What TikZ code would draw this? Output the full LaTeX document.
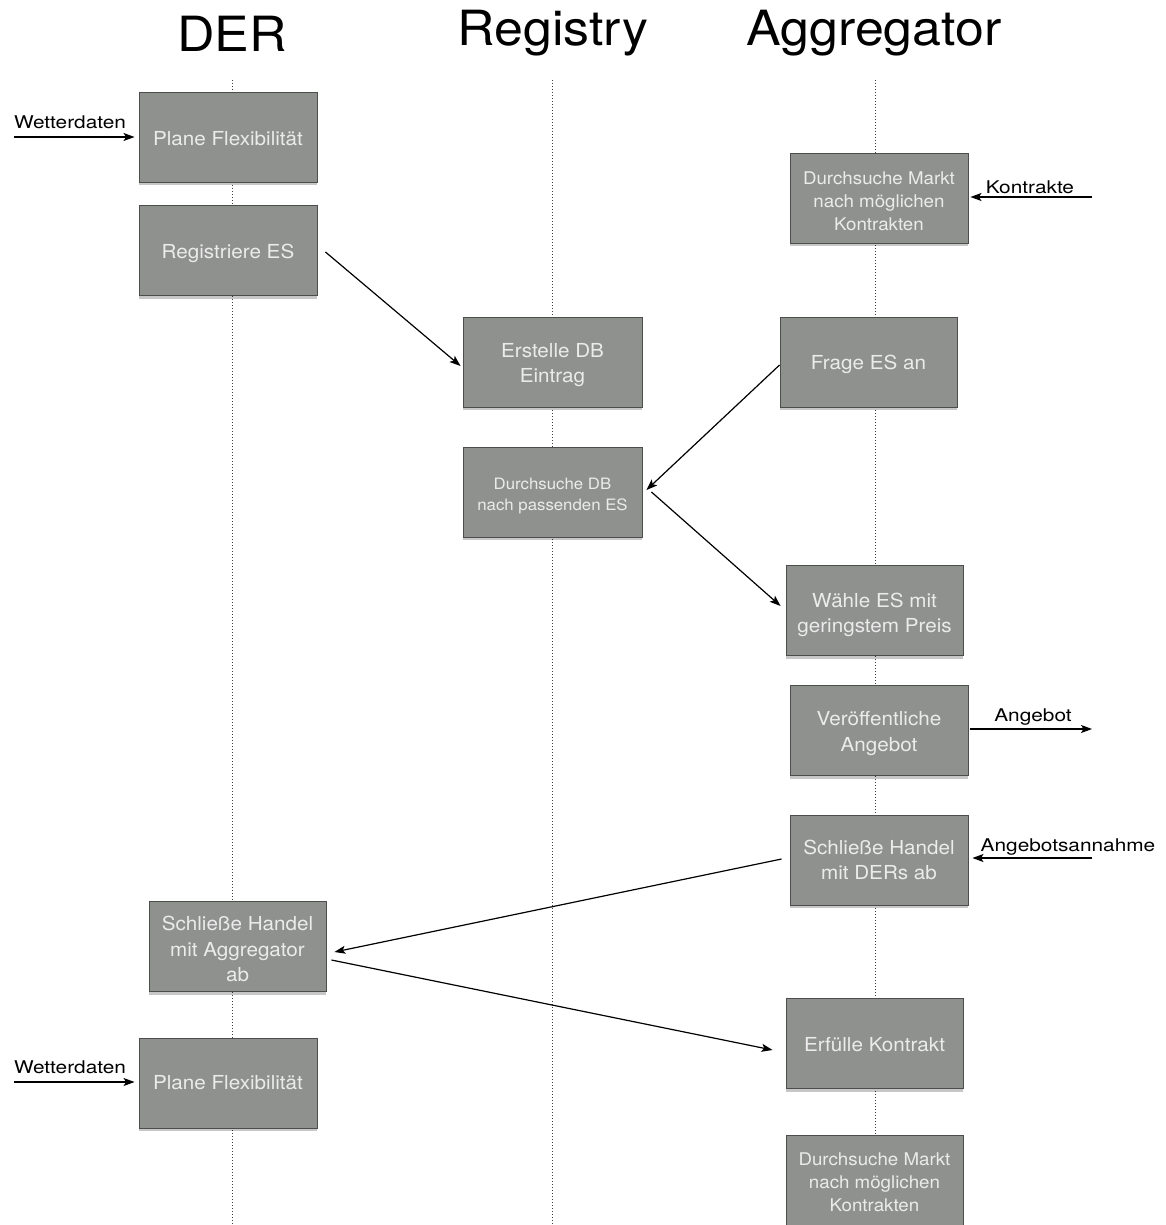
\documentclass[tikz,border=0pt]{standalone}
\usepackage{fontspec}
\setmainfont{TeX Gyre Heros}[FakeStretch=1.07]
\newfontfamily\labelfont{TeX Gyre Heros}[FakeStretch=1.19]
\usetikzlibrary{arrows.meta,shadows,calc}

\definecolor{boxfill}{HTML}{8F918F}
\definecolor{boxline}{HTML}{4C4E4C}
\definecolor{boxtext}{HTML}{EBEBEB}

% centred lines of a step box; the optional argument lowers the ink only
\newcommand{\steptext}[2][2.5pt]{%
  \raisebox{-#1}[\height][\depth]{\begin{tabular}{@{}c@{}}#2\end{tabular}}}

\tikzset{
  stepbox/.style={rectangle, draw=boxline, line width=0.9pt, fill=boxfill,
    text=boxtext, inner sep=0pt,
    minimum width=178pt, minimum height=90pt,
    font=\fontsize{19.3}{25.5}\selectfont,
    drop shadow={shadow xshift=0pt, shadow yshift=-3pt, opacity=0.22, fill=black}},
  smallbox/.style={stepbox, font=\fontsize{15.7}{21}\selectfont},
  midbox/.style={stepbox, font=\fontsize{17.5}{23}\selectfont},
  lifeline/.style={line width=0.8pt, black!75, dash pattern=on 1pt off 2pt},
  msg/.style={line width=1.2pt, -{Stealth[length=11pt,width=8pt,inset=2.5pt]}},
  lane/.style={font=\fontsize{48.5}{55}\selectfont},
  msglabel/.style={font=\labelfont\fontsize{17.5}{20}\selectfont, inner sep=0pt}
}

\begin{document}
\begin{tikzpicture}[x=1pt,y=-1pt]
  \useasboundingbox[fill=white] (0,0) rectangle (1165,1225);

  % lane headings
  \node[lane] (hder) at (232,33.5) {DER};
  \node[lane] (hreg) at (553,33.5) {Registry};
  \node[lane] (hagg) at (874,33.5) {Aggregator};

  % lifelines
  \coordinate (derTop) at (232,80);   \coordinate (derBot) at (232,1225);
  \coordinate (regTop) at (552,80);   \coordinate (regBot) at (552,1225);
  \coordinate (aggTop) at (875,80);   \coordinate (aggBot) at (875,1225);
  \draw[lifeline] (derTop) -- (derBot);
  \draw[lifeline] (regTop) -- (regBot);
  \draw[lifeline] (aggTop) -- (aggBot);

  % DER steps
  \node[stepbox] (plan1) at (228,137.5) {\steptext{Plane Flexibilität}};
  \node[stepbox] (reges) at (228,250.5) {\steptext[3pt]{Registriere ES}};
  \node[stepbox, minimum width=177pt] (dealagg) at (237.5,946.5) {\steptext[4.5pt]{Schließe Handel\\mit Aggregator\\ab}};
  \node[stepbox] (plan2) at (228,1083) {\steptext[1.5pt]{Plane Flexibilität}};

  % Registry steps
  \node[stepbox, minimum width=179pt] (dbentry) at (552.5,362) {\steptext[3pt]{Erstelle DB\\Eintrag}};
  \node[smallbox, minimum width=179pt] (dbsearch) at (552.5,492) {\steptext[4pt]{Durchsuche DB\\nach passenden ES}};

  % Aggregator steps
  \node[midbox] (market1) at (879,198) {\steptext[5pt]{Durchsuche Markt\\nach möglichen\\Kontrakten}};
  \node[stepbox, minimum width=177pt] (askes) at (868.5,362) {\steptext{Frage ES an}};
  \node[stepbox, minimum width=177pt] (choose) at (874.5,610.5) {\steptext[4.5pt]{Wähle ES mit\\geringstem Preis}};
  \node[stepbox] (publish) at (879,730.5) {\steptext[3pt]{Veröffentliche\\Angebot}};
  \node[stepbox] (dealder) at (879,860) {\steptext[2pt]{Schließe Handel\\mit DERs ab}};
  \node[stepbox, minimum width=177pt] (fulfil) at (874.5,1043.5) {\steptext[3pt]{Erfülle Kontrakt}};
  \node[midbox, minimum width=177pt] (market2) at (874.5,1180) {\steptext[4pt]{Durchsuche Markt\\nach möglichen\\Kontrakten}};

  % external inputs and outputs
  \coordinate (wetter1) at (14,137);
  \coordinate (wetter2) at (14,1082);
  \coordinate (contracts) at (1092,197);
  \coordinate (offerOut) at (1092,729);
  \coordinate (acceptIn) at (1092,858);

  \draw[msg] (wetter1) -- ($(plan1.west)+(-4,-0.5)$);
  \node[msglabel] (lw1) at (70,122) {Wetterdaten};
  \draw[msg] (wetter2) -- ($(plan2.west)+(-4,-1)$);
  \node[msglabel] (lw2) at (70,1067) {Wetterdaten};
  \draw[msg] (contracts) -- ($(market1.east)+(2,-1)$);
  \node[msglabel] (lk) at (1030,187) {Kontrakte};
  \draw[msg] ($(publish.east)+(2,-1.5)$) -- (offerOut);
  \node[msglabel] (la) at (1033,717) {Angebot};
  \draw[msg] (acceptIn) -- ($(dealder.east)+(4,-2)$);
  \node[msglabel] (laa) at (1068,847) {Angebotsannahme};

  % messages between lanes
  \draw[msg] ($(reges.east)+(8,1.5)$) -- ($(dbentry.west)+(-2,4)$);
  \draw[msg] ($(askes.west)+(0,3)$) -- ($(dbsearch.east)+(4,-2)$);
  \draw[msg] ($(dbsearch.east)+(9,0)$) -- ($(choose.west)+(-5,-4.5)$);
  \draw[msg] ($(dealder.west)+(-8,-1)$) -- ($(dealagg.east)+(8,5.5)$);
  \draw[msg] ($(dealagg.east)+(5,13.5)$) -- ($(fulfil.west)+(-13,6.5)$);
\end{tikzpicture}
\end{document}
